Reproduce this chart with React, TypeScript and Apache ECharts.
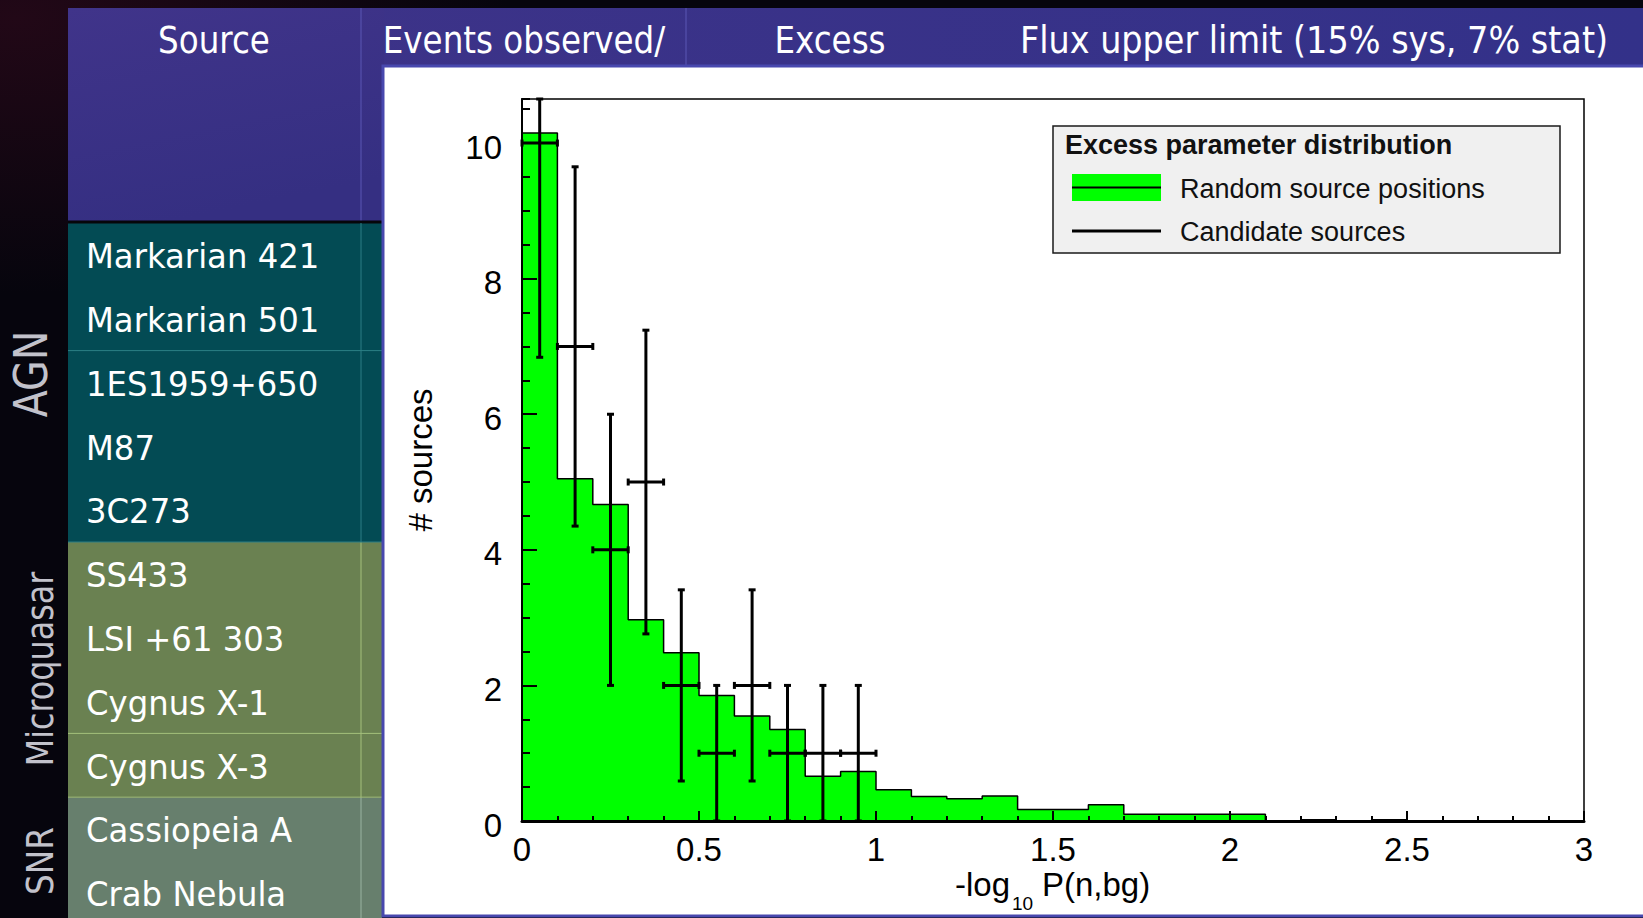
import React, { useEffect, useRef } from "react";
import * as echarts from "echarts";

// Excess parameter histogram for random source positions (bins of 0.1)
const binStarts = [0, 0.1, 0.2, 0.3, 0.4, 0.5, 0.6, 0.7, 0.8, 0.9, 1.0, 1.1, 1.2, 1.3, 1.4, 1.5, 1.6, 1.7, 1.8, 1.9, 2.0, 2.1, 2.2, 2.3, 2.4, 2.5, 2.6, 2.7, 2.8, 2.9];
const randomSourceCounts = [10.15, 5.05, 4.67, 2.97, 2.48, 1.85, 1.55, 1.35, 0.66, 0.73, 0.46, 0.36, 0.33, 0.37, 0.17, 0.17, 0.24, 0.1, 0.1, 0.1, 0.1, 0, 0.02, 0, 0.02, 0, 0, 0, 0, 0];
const histogramEnd = 3;

// Candidate sources per bin with their error bars
const candidateCenters = [0.05, 0.15, 0.25, 0.35, 0.45, 0.55, 0.65, 0.75, 0.85, 0.95];
const candidateCounts = [10, 7, 4, 5, 2, 1, 2, 1, 1, 1];
const candidateLower = [6.84, 4.35, 2.0, 2.76, 0.59, 0, 0.59, 0, 0, 0];
const candidateUpper = [13.16, 9.65, 6.0, 7.24, 3.41, 2.0, 3.41, 2.0, 2.0, 2.0];
const candidateHalfWidth = 0.05;

const xMax = 3;
const yMax = 10.65;

// Source table
const tableHeaders = ["Source", "Events observed/", "Excess", "Flux upper limit (15% sys, 7% stat)"];
const sourceNames = [
  "Markarian 421",
  "Markarian 501",
  "1ES1959+650",
  "M87",
  "3C273",
  "SS433",
  "LSI +61 303",
  "Cygnus X-1",
  "Cygnus X-3",
  "Cassiopeia A",
  "Crab Nebula",
];
const groupNames = ["AGN", "Microquasar", "SNR"];
const groupRowCounts = [5, 4, 2];
const groupDividerAfter = [2, 3, 0];

const legendTitle = "Excess parameter distribution";
const legendEntries = ["Random source positions", "Candidate sources"];
const yTitle = "# sources";

const W = 1643;
const H = 918;
const TABLE_X = 68;
const TABLE_RIGHT = 382;
const COL_SEP = 361;
const BODY_TOP = 223;
const ROW_H = 63.8;
const PANEL_X = 383;
const PANEL_Y = 66;

const headerCenters = [214, 524, 830, 1314];
const headerScale = [0.88, 0.88, 0.88, 0.905];
const groupFill = ["#034b54", "#6a8151", "#677f6d"];
const groupLine = ["#2c7f85", "#a4c07c", "#9ab4a2"];
const groupLabelX = [31, 40, 40];
const groupLabelY = [374, 669, 861];
const groupLabelSize = [46, 37, 38];

const TABLE_FONT = '"DejaVu Sans", Verdana, sans-serif';
const PLOT_FONT = '"Liberation Sans", Arial, Helvetica, sans-serif';

function buildGraphics() {
  const g: any[] = [];

  // slide backdrop: dark strip on the left with a faint warm glow at the top
  g.push({
    type: "rect",
    z: -20,
    shape: { x: 0, y: 0, width: W, height: H },
    style: {
      fill: {
        type: "radial", x: 0.01, y: 0.02, r: 0.3,
        colorStops: [
          { offset: 0, color: "#220817" },
          { offset: 1, color: "#06050d" },
        ],
      },
    },
  });

  // header band
  g.push({
    type: "rect",
    z: -12,
    shape: { x: TABLE_X, y: 8, width: W - TABLE_X, height: PANEL_Y - 8 + 2 },
    style: {
      fill: {
        type: "linear", x: 0, y: 0, x2: 1, y2: 0,
        colorStops: [
          { offset: 0, color: "#3e3388" },
          { offset: 1, color: "#333189" },
        ],
      },
    },
  });
  g.push({
    type: "rect",
    z: -12,
    shape: { x: TABLE_X, y: 8, width: TABLE_RIGHT + 2 - TABLE_X, height: BODY_TOP - 8 },
    style: {
      fill: {
        type: "linear", x: 0, y: 0, x2: 0.3, y2: 1,
        colorStops: [
          { offset: 0, color: "#40348a" },
          { offset: 1, color: "#352f82" },
        ],
      },
    },
  });
  // header column separators
  g.push({ type: "line", z: -11, shape: { x1: COL_SEP, y1: 8, x2: COL_SEP, y2: BODY_TOP - 2 }, style: { stroke: "#5a56b4", lineWidth: 1 } });
  g.push({ type: "line", z: -11, shape: { x1: 686, y1: 8, x2: 686, y2: PANEL_Y }, style: { stroke: "#5a56b4", lineWidth: 1 } });
  // dark rule under the header
  g.push({ type: "line", z: -11, shape: { x1: TABLE_X, y1: BODY_TOP - 1, x2: TABLE_RIGHT, y2: BODY_TOP - 1 }, style: { stroke: "#06060a", lineWidth: 3 } });

  tableHeaders.forEach((t, i) => {
    g.push({
      type: "text",
      z: -8,
      x: headerCenters[i],
      y: 40,
      scaleX: headerScale[i],
      style: { text: t, fill: "#ffffff", fontSize: 37, fontFamily: TABLE_FONT, align: "center", verticalAlign: "middle" },
    });
  });

  // table body grouped by source class
  let row = 0;
  groupNames.forEach((name, gi) => {
    const top = BODY_TOP + row * ROW_H;
    const n = groupRowCounts[gi];
    const h = gi === groupNames.length - 1 ? H - top : n * ROW_H;
    g.push({ type: "rect", z: -12, shape: { x: TABLE_X, y: top, width: TABLE_RIGHT - TABLE_X, height: h }, style: { fill: groupFill[gi] } });
    g.push({ type: "line", z: -11, shape: { x1: COL_SEP, y1: top, x2: COL_SEP, y2: top + h }, style: { stroke: groupLine[gi], lineWidth: 1 } });
    if (gi > 0) {
      g.push({ type: "line", z: -11, shape: { x1: TABLE_X, y1: top, x2: TABLE_RIGHT, y2: top }, style: { stroke: groupLine[gi - 1], lineWidth: 1 } });
    }
    if (groupDividerAfter[gi] > 0) {
      const yy = top + groupDividerAfter[gi] * ROW_H;
      g.push({ type: "line", z: -11, shape: { x1: TABLE_X, y1: yy, x2: TABLE_RIGHT, y2: yy }, style: { stroke: groupLine[gi], lineWidth: 1 } });
    }
    for (let k = 0; k < n; k++) {
      const yc = top + (k + 0.5) * ROW_H + 1.5;
      g.push({
        type: "text",
        z: -8,
        x: 86,
        y: yc,
        scaleX: 0.95,
        style: { text: sourceNames[row + k], fill: "#ffffff", fontSize: 34, fontFamily: TABLE_FONT, align: "left", verticalAlign: "middle" },
      });
    }
    g.push({
      type: "text",
      z: -8,
      x: groupLabelX[gi],
      y: groupLabelY[gi],
      rotation: Math.PI / 2,
      scaleX: 0.86,
      style: { text: name, fill: "#c2c2cb", fontSize: groupLabelSize[gi], fontFamily: TABLE_FONT, align: "center", verticalAlign: "middle" },
    });
    row += n;
  });

  // white plot panel
  g.push({
    type: "rect",
    z: -9,
    shape: { x: PANEL_X, y: PANEL_Y, width: W - PANEL_X + 10, height: H - PANEL_Y - 2 },
    style: { fill: "#ffffff", stroke: "#4848ae", lineWidth: 3 },
  });

  // axis titles
  g.push({
    type: "text", z: 6, x: 420, y: 460, rotation: Math.PI / 2,
    style: { text: yTitle, fill: "#000", fontSize: 33, fontFamily: PLOT_FONT, align: "center", verticalAlign: "middle" },
  });
  g.push({ type: "text", z: 6, x: 955, y: 884, style: { text: "-log", fill: "#000", fontSize: 33, fontFamily: PLOT_FONT, align: "left", verticalAlign: "middle" } });
  g.push({ type: "text", z: 6, x: 1012, y: 903, style: { text: "10", fill: "#000", fontSize: 19, fontFamily: PLOT_FONT, align: "left", verticalAlign: "middle" } });
  g.push({ type: "text", z: 6, x: 1042, y: 884, style: { text: "P(n,bg)", fill: "#000", fontSize: 33, fontFamily: PLOT_FONT, align: "left", verticalAlign: "middle" } });

  // legend box
  g.push({ type: "rect", z: 10, shape: { x: 1053, y: 126, width: 507, height: 127 }, style: { fill: "#f0f0f0", stroke: "#1a1a1a", lineWidth: 1.5 } });
  g.push({ type: "text", z: 11, x: 1065, y: 145, style: { text: legendTitle, fill: "#111", fontSize: 27, fontWeight: "bold", fontFamily: PLOT_FONT, align: "left", verticalAlign: "middle" } });
  g.push({ type: "rect", z: 11, shape: { x: 1072, y: 174, width: 89, height: 27 }, style: { fill: "#00ff00" } });
  g.push({ type: "line", z: 12, shape: { x1: 1072, y1: 187.5, x2: 1161, y2: 187.5 }, style: { stroke: "#000", lineWidth: 2 } });
  g.push({ type: "text", z: 11, x: 1180, y: 189, style: { text: legendEntries[0], fill: "#111", fontSize: 27, fontFamily: PLOT_FONT, align: "left", verticalAlign: "middle" } });
  g.push({ type: "line", z: 12, shape: { x1: 1072, y1: 231, x2: 1161, y2: 231 }, style: { stroke: "#000", lineWidth: 3 } });
  g.push({ type: "text", z: 11, x: 1180, y: 232, style: { text: legendEntries[1], fill: "#111", fontSize: 27, fontFamily: PLOT_FONT, align: "left", verticalAlign: "middle" } });

  return g;
}

function buildOption(): any {
  const histogramPoints: number[][] = [[0, 0]];
  binStarts.forEach((x, i) => histogramPoints.push([x, randomSourceCounts[i]]));
  histogramPoints.push([histogramEnd, 0]);

  const candidateData = candidateCenters.map((x, i) => [x, candidateCounts[i], candidateLower[i], candidateUpper[i]]);

  const tickStyle = { color: "#000", width: 2 };

  return {
    animation: false,
    backgroundColor: "#06050d",
    textStyle: { fontFamily: PLOT_FONT },
    graphic: { elements: buildGraphics() },
    grid: {
      left: 522,
      top: 99,
      width: 1062,
      height: 722,
      show: true,
      backgroundColor: "transparent",
      borderColor: "#000",
      borderWidth: 1.5,
      containLabel: false,
    },
    xAxis: {
      type: "value",
      min: 0,
      max: xMax,
      interval: 0.5,
      z: 5,
      axisLine: { show: true, onZero: false, lineStyle: { color: "#000", width: 3 } },
      axisTick: { show: true, inside: true, length: 10, lineStyle: tickStyle },
      minorTick: { show: true, splitNumber: 5, length: 5, lineStyle: tickStyle },
      splitLine: { show: false },
      minorSplitLine: { show: false },
      axisLabel: { color: "#000", fontSize: 33, fontFamily: PLOT_FONT, margin: 12 },
    },
    yAxis: [
      {
        type: "value",
        min: 0,
        max: yMax,
        interval: 2,
        position: "left",
        z: 5,
        axisLine: { show: true, onZero: false, lineStyle: { color: "#000", width: 2 } },
        axisTick: { show: true, inside: true, length: 15, lineStyle: tickStyle },
        splitLine: { show: false },
        axisLabel: {
          margin: 20,
          showMaxLabel: false,
          formatter: "{v|{value}}",
          rich: {
            v: { color: "#000", fontSize: 33, fontFamily: PLOT_FONT, padding: [8, 0, 0, 0] },
          },
        },
      },
      {
        type: "value",
        min: 0,
        max: yMax,
        interval: 0.5,
        position: "left",
        offset: 0,
        z: 5,
        axisLine: { show: false },
        axisTick: { show: true, inside: true, length: 8, lineStyle: tickStyle },
        splitLine: { show: false },
        axisLabel: { show: false },
      },
    ],
    series: [
      {
        name: legendEntries[0],
        type: "line",
        step: "end",
        data: histogramPoints,
        symbol: "none",
        silent: true,
        z: 2,
        lineStyle: { color: "#000", width: 1.5 },
        areaStyle: { color: "#00ff00", opacity: 1, origin: "start" },
      },
      {
        name: legendEntries[1],
        type: "custom",
        data: candidateData,
        z: 4,
        clip: false,
        silent: true,
        encode: { x: 0, y: 1 },
        renderItem: (_params: any, api: any) => {
          const x = api.value(0);
          const y = api.value(1);
          const lo = api.value(2);
          const hi = Math.min(api.value(3), yMax);
          const [lx, cy] = api.coord([x - candidateHalfWidth, y]);
          const [rx] = api.coord([x + candidateHalfWidth, y]);
          const [cx, loY] = api.coord([x, lo]);
          const hiY = api.coord([x, hi])[1];
          const style = { stroke: "#000", lineWidth: 3 };
          const c = 3.5;
          const seg = (x1: number, y1: number, x2: number, y2: number) => ({
            type: "line",
            shape: { x1, y1, x2, y2 },
            style,
          });
          return {
            type: "group",
            children: [
              seg(lx, cy, rx, cy),
              seg(cx, loY, cx, hiY),
              seg(lx, cy - c, lx, cy + c),
              seg(rx, cy - c, rx, cy + c),
              seg(cx - c, loY, cx + c, loY),
              seg(cx - c, hiY, cx + c, hiY),
            ],
          };
        },
      },
    ],
  };
}

export default function App() {
  const ref = useRef<HTMLDivElement>(null);

  useEffect(() => {
    if (!ref.current) return;
    const chart = echarts.init(ref.current, null, { renderer: "svg", width: W, height: H });
    chart.setOption(buildOption());
    return () => chart.dispose();
  }, []);

  return <div ref={ref} style={{ position: "fixed", left: 0, top: 0, width: W, height: H }} />;
}
